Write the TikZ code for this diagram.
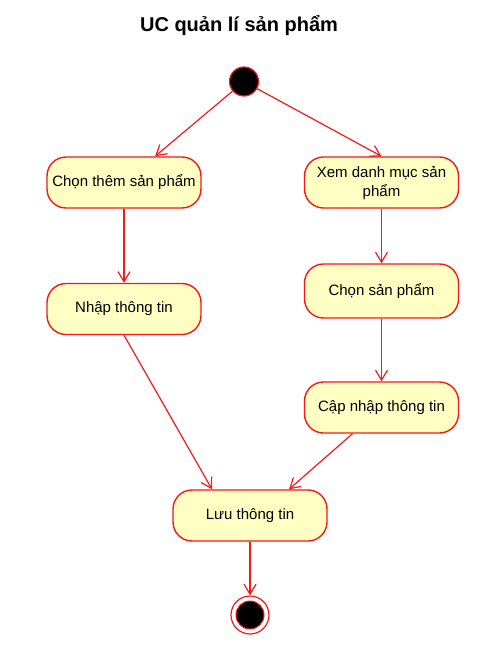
\documentclass[tikz,border=0pt]{standalone}
\usepackage{fontspec}
\setmainfont{Liberation Sans}
\usepackage{tikz}
\usetikzlibrary{positioning, arrows.meta}

\definecolor{ucred}{RGB}{245,25,25}
\definecolor{ucfill}{RGB}{255,255,195}

\begin{document}
\begin{tikzpicture}[x=1pt, y=1pt, on grid, auto,
    >={Straight Barb[length=10pt, width=12pt]},
    action/.style={draw=ucred, fill=ucfill, line width=1.4pt, rounded corners=19pt,
        minimum width=154pt, minimum height=51pt, inner sep=0pt, align=center,
        font=\fontsize{15}{19}\selectfont},
    startnode/.style={circle, draw=ucred, fill=black, line width=1.2pt, minimum size=29pt, inner sep=0pt},
    endring/.style={circle, draw=ucred, fill=white, line width=1.2pt, minimum size=38pt, inner sep=0pt},
    enddot/.style={circle, draw=ucred, fill=black, line width=1pt, minimum size=28pt, inner sep=0pt},
    flow/.style={draw=ucred, line width=1.2pt}]
    \useasboundingbox (0,0) rectangle (492,-645);

    \node[anchor=base, font=\fontsize{20}{24}\selectfont\bfseries] (title) at (239,-31) {UC quản lí sản phẩm};

    \node[startnode] (start) at (244,-81.5) {};
    \node[action] (chon) at (124,-182.5) {Chọn thêm sản phẩm};
    \node[action] (xem) [right=257.5pt of chon] {Xem danh mục sản\\phẩm};
    \node[action] (nhap) [below=126.5pt of chon] {Nhập thông tin};
    \node[action, minimum height=54pt] (chonsp) [below=108.5pt of xem] {Chọn sản phẩm};
    \node[action] (capnhap) [below=116.5pt of chonsp] {Cập nhập thông tin};
    \node[action] (luu) at (250,-515.5) {Lưu thông tin};
    \node[endring] (end) [below=99.5pt of luu] {};
    \node[enddot] (enddot) at (end) {};

    \path[->, flow]
    (start) edge (chon)
            edge (xem.north)
    (chon) edge (nhap)
    (xem) edge (chonsp)
    (chonsp) edge (capnhap)
    (luu) edge (end);
    \draw[->, flow] (nhap.south) -- ([xshift=-38pt]luu.north);
    \draw[->, flow] ([xshift=-29pt]capnhap.south) -- ([xshift=39pt]luu.north);
\end{tikzpicture}
\end{document}
